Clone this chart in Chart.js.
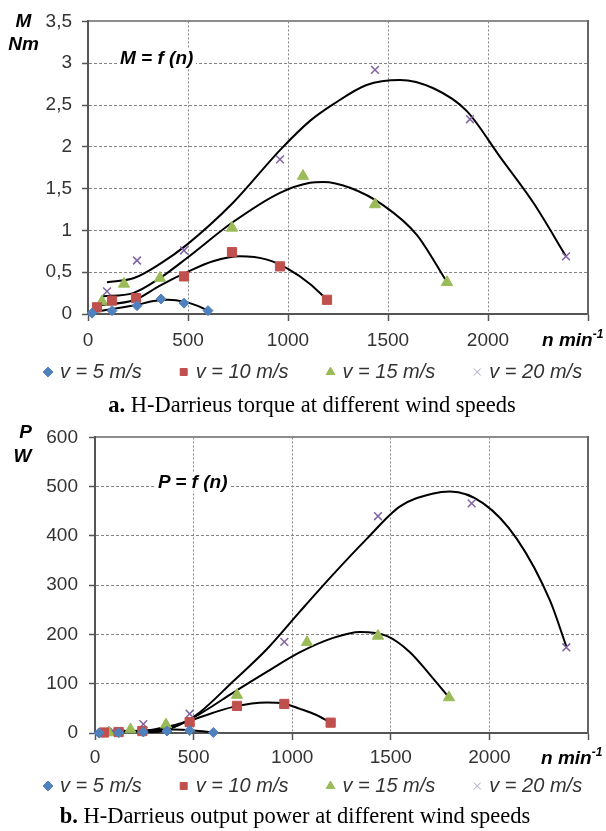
<!DOCTYPE html>
<html><head><meta charset="utf-8">
<script src="https://cdn.jsdelivr.net/npm/chart.js@4"></script>
<style>
html,body{margin:0;padding:0;background:#fff;width:606px;height:831px;overflow:hidden;}
#wrap{position:relative;width:606px;height:831px;overflow:hidden;}
canvas{position:absolute;left:0;}
.t{position:absolute;font-family:"Liberation Sans",Arial,sans-serif;font-weight:bold;font-style:italic;font-size:19px;line-height:19px;white-space:nowrap;color:#000;z-index:2;}
.c{text-align:center;width:47px;}
.f{background:#fff;padding:0 3px;}
.cap{position:absolute;width:606px;text-align:center;font-family:"Liberation Serif","Times New Roman",serif;font-size:22.5px;line-height:23px;color:#000;white-space:nowrap;z-index:2;}
sup{font-size:12px;position:relative;top:-1px;}
</style></head>
<body><div id="wrap">
<canvas id="cA" width="640" height="392" style="top:0"></canvas>
<canvas id="cB" width="640" height="391" style="top:415px"></canvas>
<div class="t c" style="left:0;top:11px">M</div>
<div class="t c" style="left:0;top:34px">Nm</div>
<div class="t f" style="left:117px;top:48px">M = f (n)</div>
<div class="t" style="left:542px;top:326px">n min<sup>-1</sup></div>
<div class="cap" style="left:9px;top:393px"><b>a.</b> H-Darrieus torque at different wind speeds</div>
<div class="t c" style="left:2px;top:422px">P</div>
<div class="t c" style="left:-1px;top:446px">W</div>
<div class="t f" style="left:155px;top:472px">P = f (n)</div>
<div class="t" style="left:541px;top:744px">n min<sup>-1</sup></div>
<div class="cap" style="left:-8px;top:804px"><b>b.</b> H-Darrieus output power at different wind speeds</div>
</div>
<script>
const speedLabels = ['v = 5 m/s', 'v = 10 m/s', 'v = 15 m/s', 'v = 20 m/s'];

// rotational speed of each measurement, min^-1
const n5  = [20, 120, 245, 365, 480, 600];
const n10 = [45, 120, 240, 480, 720, 960, 1195];
const n15 = [70, 180, 360, 720, 1075, 1435, 1795];
const n20 = [95, 245, 480, 960, 1435, 1910, 2390];

// a. torque M, Nm
const torque5  = [0.01, 0.04, 0.10, 0.18, 0.13, 0.04];
const torque10 = [0.08, 0.16, 0.19, 0.45, 0.74, 0.57, 0.17];
const torque15 = [0.15, 0.36, 0.43, 1.03, 1.65, 1.31, 0.38];
const torque20 = [0.27, 0.64, 0.76, 1.85, 2.92, 2.33, 0.69];

// b. power P, W
const power5  = [0, 0.5, 2, 4, 5, 1];
const power10 = [1, 2, 4, 22, 55, 59, 21];
const power15 = [1, 7, 17, 77, 184, 197, 72];
const power20 = [3, 18, 39, 185, 440, 466, 174];

// trend curves (black)
const torqueFitN5  = [20, 120, 235, 330, 400, 485, 545, 600];
const torqueFit5   = [0.02, 0.06, 0.105, 0.155, 0.17, 0.145, 0.10, 0.04];
const torqueFitN10 = [45, 235, 360, 495, 625, 760, 895, 1000, 1110, 1195];
const torqueFit10  = [0.10, 0.17, 0.34, 0.50, 0.63, 0.69, 0.65, 0.54, 0.36, 0.17];
const torqueFitN15 = [70, 225, 360, 495, 725, 960, 1110, 1177, 1310, 1477, 1643, 1795];
const torqueFit15  = [0.21, 0.25, 0.43, 0.67, 1.10, 1.45, 1.57, 1.58, 1.51, 1.30, 0.95, 0.38];
const torqueFitN20 = [95, 230, 360, 495, 725, 960, 1110, 1227, 1393, 1560, 1727, 1893, 2060, 2227, 2390];
const torqueFit20  = [0.38, 0.43, 0.60, 0.83, 1.33, 1.96, 2.31, 2.51, 2.74, 2.80, 2.70, 2.43, 1.88, 1.33, 0.69];

const powerFitN5  = [20, 150, 300, 400, 500, 600];
const powerFit5   = [1, 3, 6, 7, 5, 1];
const powerFitN10 = [45, 150, 250, 360, 473, 532, 701, 871, 955, 1040, 1120, 1195];
const powerFit10  = [3, 2, 4, 12, 24, 32, 53, 62, 60, 49, 37, 21];
const powerFitN15 = [70, 180, 290, 400, 532, 701, 871, 1040, 1208, 1344, 1479, 1597, 1699, 1795];
const powerFit15  = [5, 2, 3, 12, 39, 82, 124, 164, 193, 205, 197, 164, 118, 72];
const powerFitN20 = [95, 180, 290, 380, 473, 532, 701, 871, 1040, 1208, 1378, 1547, 1716, 1800, 1969, 2139, 2307, 2390];
const powerFit20  = [9, 3, 1, 9, 26, 42, 105, 170, 247, 322, 394, 460, 486, 490, 466, 394, 269, 176];

// tick values
const nTicks = [0, 500, 1000, 1500, 2000, 2500];
const torqueTicks = [0, 0.5, 1, 1.5, 2, 2.5, 3, 3.5];
const powerTicks = [0, 100, 200, 300, 400, 500, 600];

function pts(xs, ys) { return xs.map((x, i) => ({x: x, y: ys[i]})); }

const markerStyles = [
  {pointStyle: 'rectRot',  radius: 5,   color: '#4F81BD', bw: 1,   legend: '#4F81BD'},
  {pointStyle: 'rect',     radius: 6.5, color: '#C0504D', bw: 1,   legend: '#C0504D'},
  {pointStyle: 'triangle', radius: 6.5, color: '#9BBB59', bw: 1,   legend: '#9BBB59'},
  {pointStyle: 'crossRot', radius: 5.5, color: '#8064A2', bw: 1.5, legend: '#ab9ccb'}
];

function buildDatasets(pointSets, fitSets) {
  const ds = [];
  pointSets.forEach((p, i) => {
    const s = markerStyles[i];
    ds.push({label: speedLabels[i], data: p, showLine: false, order: 0, clip: false,
      pointStyle: s.pointStyle, pointRadius: s.radius, pointHoverRadius: s.radius,
      backgroundColor: s.color, borderColor: s.color, pointBorderWidth: s.bw, borderWidth: s.bw});
  });
  fitSets.forEach((p, i) => {
    ds.push({label: 'trend ' + speedLabels[i], data: p, showLine: true, order: 1,
      borderColor: '#000', borderWidth: 2, pointRadius: 0, pointHoverRadius: 0, fill: false,
      cubicInterpolationMode: 'monotone'});
  });
  return ds;
}

const FONT = '"Liberation Sans", Arial, sans-serif';
const gridColor = '#858585';
const ITEM_GAP = '\u2003\u2002';

function legendLabels(chart) {
  const items = Chart.defaults.plugins.legend.labels.generateLabels(chart);
  return items.map((it) => {
    if (it.datasetIndex < 4) {
      it.strokeStyle = markerStyles[it.datasetIndex].legend;
      it.lineWidth = 1;
    }
    if (it.datasetIndex < 3) it.text = it.text + ITEM_GAP;
    return it;
  });
}

function makeOptions(cfg) {
  return {
    responsive: false, animation: false, devicePixelRatio: 1, events: [],
    layout: {padding: {left: 36, right: 0, top: 0, bottom: 0}},
    plugins: {
      tooltip: {enabled: false},
      legend: {display: true, position: 'bottom', align: 'start',
        labels: {usePointStyle: true, boxWidth: 4, boxHeight: 7, padding: 10, color: '#333',
          font: {family: FONT, size: 20, style: 'italic'},
          generateLabels: legendLabels,
          filter: (it) => it.datasetIndex < 4}}
    },
    scales: {
      x: {type: 'linear', position: 'bottom', min: nTicks[0], max: nTicks[nTicks.length - 1],
        afterBuildTicks: (s) => { s.ticks = nTicks.map(v => ({value: v})); },
        ticks: {autoSkip: false, maxRotation: 0, padding: cfg.xPad, color: '#333',
          font: {family: FONT, size: 19},
          callback: (v) => v === nTicks[nTicks.length - 1] ? '' : String(v)},
        grid: {color: gridColor, lineWidth: 1, tickLength: 7, tickColor: '#555', tickWidth: 1.5},
        border: {display: true, color: '#555', width: 2, dash: [2, 2]},
        afterFit: (s) => { s.height = cfg.xH; }},
      xTop: {type: 'linear', position: 'top', min: nTicks[0], max: nTicks[nTicks.length - 1],
        ticks: {display: false}, grid: {display: false, drawTicks: false},
        border: {display: true, color: '#8c8c8c', width: 2},
        afterFit: (s) => { s.height = cfg.topH; }},
      y: {type: 'linear', position: 'left', min: cfg.yTicks[0], max: cfg.yTicks[cfg.yTicks.length - 1],
        afterBuildTicks: (s) => { s.ticks = cfg.yTicks.map(v => ({value: v})); },
        ticks: {autoSkip: false, padding: cfg.yPad, color: '#333', font: {family: FONT, size: 19},
          callback: cfg.yFmt},
        grid: {color: gridColor, lineWidth: 1, tickLength: 6, tickColor: '#555', tickWidth: 1.5},
        border: {display: true, color: '#555', width: 2, dash: [3, 2]},
        afterFit: (s) => { s.width = cfg.yW; }},
      y2: {type: 'linear', position: 'right', min: cfg.yTicks[0], max: cfg.yTicks[cfg.yTicks.length - 1],
        ticks: {display: false}, grid: {display: false, drawTicks: false},
        border: {display: true, color: '#666', width: 2},
        afterFit: (s) => { s.width = 52; }}
    }
  };
}

new Chart(document.getElementById('cA'), {
  type: 'scatter',
  data: {datasets: buildDatasets(
    [pts(n5, torque5), pts(n10, torque10), pts(n15, torque15), pts(n20, torque20)],
    [pts(torqueFitN5, torqueFit5), pts(torqueFitN10, torqueFit10), pts(torqueFitN15, torqueFit15), pts(torqueFitN20, torqueFit20)])},
  options: makeOptions({yTicks: torqueTicks, yFmt: (v) => String(v).replace('.', ','),
    yW: 52, yPad: 10, topH: 15, xH: 38, xPad: 8})
});

new Chart(document.getElementById('cB'), {
  type: 'scatter',
  data: {datasets: buildDatasets(
    [pts(n5, power5), pts(n10, power10), pts(n15, power15), pts(n20, power20)],
    [pts(powerFitN5, powerFit5), pts(powerFitN10, powerFit10), pts(powerFitN15, powerFit15), pts(powerFitN20, powerFit20)])},
  options: makeOptions({yTicks: powerTicks, yFmt: (v) => String(v),
    yW: 59, yPad: 11, topH: 14, xH: 33, xPad: 6})
});
</script>
</body></html>
